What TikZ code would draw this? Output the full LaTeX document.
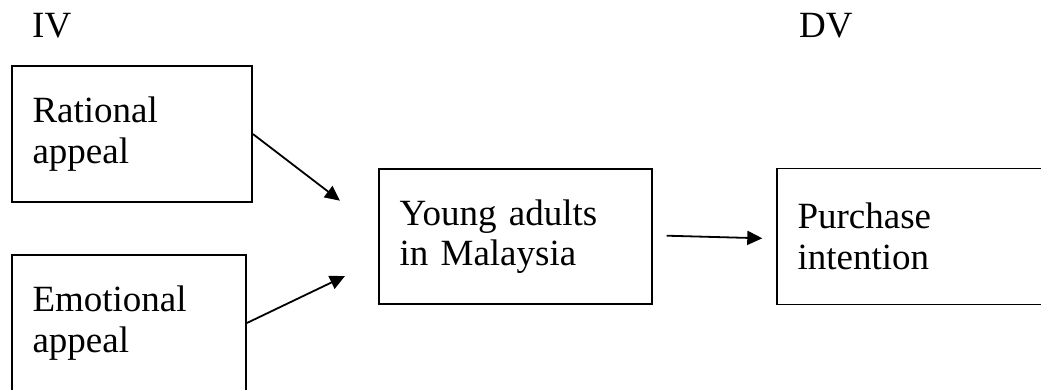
\documentclass[tikz,border=0pt]{standalone}
\usepackage{fontspec}
\setmainfont{Liberation Serif}
\usetikzlibrary{positioning,arrows.meta}

\begin{document}
\begin{tikzpicture}[x=1pt, y=-1pt, every node/.style={font=\fontsize{37}{40.5}\selectfont},
  varbox/.style={draw, rectangle, line width=1.8pt, align=left, inner xsep=20.5pt, inner ysep=0pt, minimum height=136pt},
  link/.style={-{Triangle[length=15pt,width=14pt]}, line width=1.8pt}]
  \useasboundingbox (0,0) rectangle (1041,389);
  \clip (0,0) rectangle (1041,389);
  \node[anchor=base west, inner sep=0pt] (iv) at (32,37.3) {IV};
  \node[anchor=base west, inner sep=0pt] (dv) at (799,37.3) {DV};
  \node[varbox, text width=199pt] (rational) at (132,134) {Rational\\appeal};
  \node[varbox, text width=193pt, below=51.2pt of rational.south west, anchor=north west] (emotional) {Emotional\\appeal};
  \node[varbox, text width=232pt, minimum height=135pt] (young) at (515.5,236.5) {Young adults\\in Malaysia};
  \node[varbox, text width=259pt, right=123.2pt of young] (purchase) {Purchase\\intention};
  \coordinate (r-end) at (340,200.7);
  \coordinate (e-end) at (345,276);
  \coordinate (y-out) at (666.7,235.7);
  \coordinate (p-in) at (762.3,238.3);
  \draw[link] (rational.east) -- (r-end);
  \draw[link] (emotional.east) -- (e-end);
  \draw[link] (y-out) -- (p-in);
\end{tikzpicture}
\end{document}
